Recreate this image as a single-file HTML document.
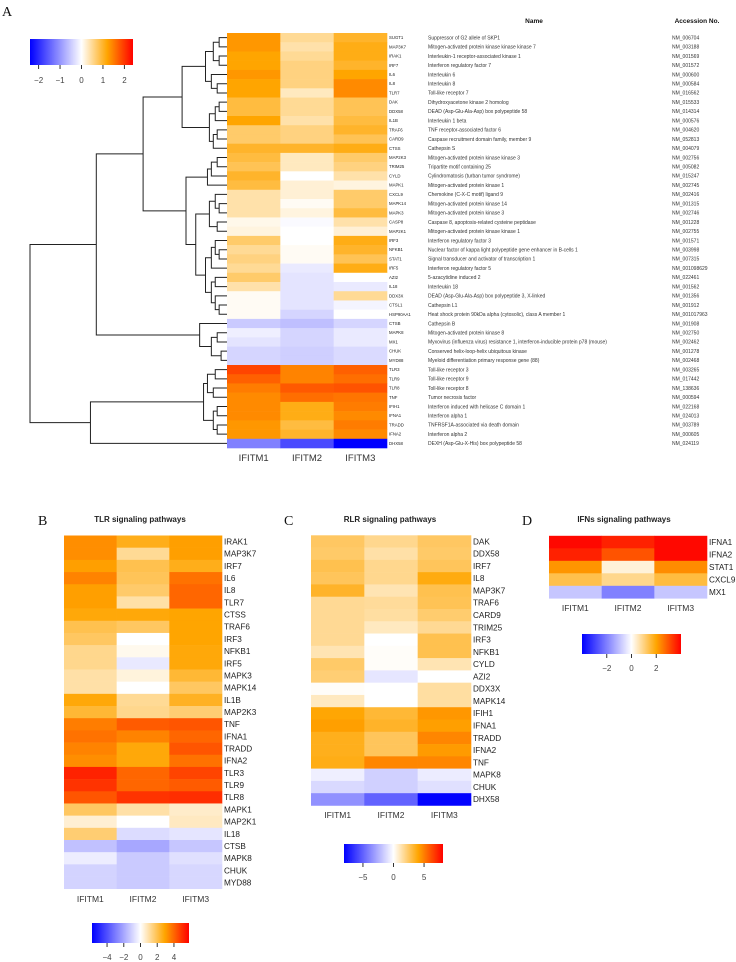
<!DOCTYPE html>
<html><head><meta charset="utf-8">
<style>
html,body{margin:0;padding:0;background:#fff;}
svg{display:block;font-family:"Liberation Sans",sans-serif;}
</style></head>
<body>
<svg id="fig" width="736" height="962" viewBox="0 0 736 962" xmlns="http://www.w3.org/2000/svg">
<defs id="defs"></defs>
<g id="root"></g>
</svg>
<script>
// ---------- DATA ----------
const colsA = ["IFITM1","IFITM2","IFITM3"];
const genesA = ["SUGT1","MAP3K7","IRAK1","IRF7","IL6","IL8","TLR7","DAK","DDX58","IL1B","TRAF6","CARD9","CTSS","MAP2K3","TRIM25","CYLD","MAPK1","CXCL9","MAPK14","MAPK3","CASP8","MAP2K1","IRF3","NFKB1","STAT1","IRF5","AZI2","IL18","DDX3X","CTSL1","HSP90AA1","CTSB","MAPK8","MX1","CHUK","MYD88","TLR3","TLR9","TLR8","TNF","IFIH1","IFNA1","TRADD","IFNA2","DHX58"];
const namesA = ["Suppressor of G2 allele of SKP1","Mitogen-activated protein kinase kinase kinase 7","Interleukin-1 receptor-associated kinase 1","Interferon regulatory factor 7","Interleukin 6","Interleukin 8","Toll-like receptor 7","Dihydroxyacetone kinase 2 homolog","DEAD (Asp-Glu-Ala-Asp) box polypeptide 58","Interleukin 1 beta","TNF receptor-associated factor 6","Caspase recruitment domain family, member 9","Cathepsin S","Mitogen-activated protein kinase kinase 3","Tripartite motif containing 25","Cylindromatosis (turban tumor syndrome)","Mitogen-activated protein kinase 1","Chemokine (C-X-C motif) ligand 9","Mitogen-activated protein kinase 14","Mitogen-activated protein kinase 3","Caspase 8, apoptosis-related cysteine peptidase","Mitogen-activated protein kinase kinase 1","Interferon regulatory factor 3","Nuclear factor of kappa light polypeptide gene enhancer in B-cells 1","Signal transducer and activator of transcription 1","Interferon regulatory factor 5","5-azacytidine induced 2","Interleukin 18","DEAD (Asp-Glu-Ala-Asp) box polypeptide 3, X-linked","Cathepsin L1","Heat shock protein 90kDa alpha (cytosolic), class A member 1","Cathepsin B","Mitogen-activated protein kinase 8","Myxovirus (influenza virus) resistance 1, interferon-inducible protein p78 (mouse)","Conserved helix-loop-helix ubiquitous kinase","Myeloid differentiation primary response gene (88)","Toll-like receptor 3","Toll-like receptor 9","Toll-like receptor 8","Tumor necrosis factor","Interferon induced with helicase C domain 1","Interferon alpha 1","TNFRSF1A-associated via death domain","Interferon alpha 2","DEXH (Asp-Glu-X-His) box polypeptide 58"];
const accA = ["NM_006704","NM_003188","NM_001569","NM_001572","NM_000600","NM_000584","NM_016562","NM_015533","NM_014314","NM_000576","NM_004620","NM_052813","NM_004079","NM_002756","NM_005082","NM_015247","NM_002745","NM_002416","NM_001315","NM_002746","NM_001228","NM_002755","NM_001571","NM_003998","NM_007315","NM_001098629","NM_022461","NM_001562","NM_001356","NM_001912","NM_001017963","NM_001908","NM_002750","NM_002462","NM_001278","NM_002468","NM_003265","NM_017442","NM_138636","NM_000594","NM_022168","NM_024013","NM_003789","NM_000605","NM_024119"];
const valA1 = [1.3,1.3,1.2,1.2,1.3,1.2,1.2,0.9,0.9,1.2,0.7,0.7,1.0,0.9,0.8,1.0,0.9,0.4,0.4,0.4,0.1,0.15,0.7,0.5,0.6,0.5,0.7,0.4,0.05,0.05,0.05,-0.5,-0.15,-0.25,-0.4,-0.4,1.9,1.7,1.5,1.4,1.4,1.4,1.3,1.3,-1.2];
const valA2 = [0.5,0.4,0.5,0.6,0.6,0.6,0.3,0.5,0.5,0.4,0.6,0.6,1.0,0.3,0.3,0.0,0.2,0.2,0.05,0.15,-0.05,0.0,0.0,0.05,0.05,-0.2,-0.25,-0.25,-0.25,-0.25,-0.4,-0.6,-0.4,-0.4,-0.45,-0.45,1.45,1.45,1.75,1.6,1.1,1.1,0.9,1.0,-1.7];
const valA3 = [1.0,1.1,1.1,1.0,1.2,1.4,1.4,0.8,0.8,0.9,1.0,0.8,1.1,0.7,0.6,0.4,0.15,0.7,0.7,0.9,0.4,0.2,1.1,1.0,0.8,1.1,0.0,-0.2,0.5,-0.1,0.0,-0.4,-0.2,-0.2,-0.35,-0.35,1.7,1.6,1.8,1.55,1.5,1.4,1.5,1.4,-2.4];
const ticksA = [-2,-1,0,1,2];

const genesB = ["IRAK1","MAP3K7","IRF7","IL6","IL8","TLR7","CTSS","TRAF6","IRF3","NFKB1","IRF5","MAPK3","MAPK14","IL1B","MAP2K3","TNF","IFNA1","TRADD","IFNA2","TLR3","TLR9","TLR8","MAPK1","MAP2K1","IL18","CTSB","MAPK8","CHUK","MYD88"];
const valB1 = [3.3,3.3,3.0,3.5,3.0,3.0,2.8,2.0,1.8,1.3,1.3,1.0,1.0,2.8,2.3,3.6,3.8,3.5,3.3,5.2,4.9,4.3,1.8,0.5,1.6,-1.4,-0.4,-1.0,-1.0];
const valB2 = [2.6,1.2,2.0,1.9,1.7,1.0,2.8,1.8,0.0,0.2,-0.5,0.4,0.0,1.2,1.3,4.2,3.5,2.8,2.8,4.0,4.0,4.9,1.0,0.0,-0.8,-2.0,-1.2,-1.2,-1.2];
const valB3 = [3.0,3.0,2.6,3.8,4.0,4.0,2.9,2.9,2.9,2.8,2.8,2.3,1.8,2.5,1.6,4.3,4.0,4.3,3.8,4.6,4.2,5.0,0.6,0.7,-0.6,-1.3,-0.7,-0.9,-0.9];
const ticksB = [-4,-2,0,2,4];

const genesC = ["DAK","DDX58","IRF7","IL8","MAP3K7","TRAF6","CARD9","TRIM25","IRF3","NFKB1","CYLD","AZI2","DDX3X","MAPK14","IFIH1","IFNA1","TRADD","IFNA2","TNF","MAPK8","CHUK","DHX58"];
const valC1 = [2.5,2.4,2.8,2.6,3.4,1.7,1.7,1.7,1.7,1.2,2.4,2.2,0.1,1.0,4.0,4.2,3.6,3.6,3.7,-0.5,-1.2,-3.5];
const valC2 = [1.8,1.4,1.8,1.8,1.2,1.6,1.5,1.0,0.0,0.1,0.1,-0.8,0.0,0.0,3.2,3.4,2.6,2.6,4.8,-1.5,-1.5,-5.0];
const valC3 = [2.5,2.4,2.6,3.8,2.8,2.7,2.3,1.7,2.8,2.8,1.2,0.0,1.5,1.5,4.4,4.2,4.8,4.3,4.8,-0.6,-1.0,-8.0];
const ticksC = [-5,0,5];

const genesD = ["IFNA1","IFNA2","STAT1","CXCL9","MX1"];
const valD1 = [3.9,3.6,2.2,1.4,-0.9];
const valD2 = [3.6,3.0,0.3,0.9,-2.0];
const valD3 = [3.9,3.9,2.3,1.5,-0.9];
const ticksD = [-2,0,2];

// ---------- HELPERS ----------
const NS="http://www.w3.org/2000/svg";
const root=document.getElementById('root');
const defs=document.getElementById('defs');
function mk(tag,attrs,parent){const e=document.createElementNS(NS,tag);for(const k in attrs)e.setAttribute(k,attrs[k]);(parent||root).appendChild(e);return e;}
function mix(a,b,t){return [0,1,2].map(i=>Math.round(a[i]+(b[i]-a[i])*t));}
function color(v,max){
  let t=Math.max(-1,Math.min(1,v/max));
  let c;
  if(t<0){c=mix([255,255,255],[0,0,255],-t);}
  else if(t<0.5){c=mix([255,255,255],[255,165,0],t/0.5);}
  else {c=mix([255,165,0],[255,0,0],(t-0.5)/0.5);}
  return `rgb(${c[0]},${c[1]},${c[2]})`;
}
function txt(x,y,s,size,attrs,parent){const e=mk('text',Object.assign({x:x,y:y,'font-size':size,fill:'#222'},attrs||{}),parent);e.textContent=s;return e;}

function heatmap(id,genes,series,max,x0,x1,y0,rowH,labelX,labelSize,colLabelY,colLabelSize){
  const g=mk('g',{});
  
  
  const cw=(x1-x0)/series.length;
  const xAt=j=>x0+j*cw;
  const yAt=i=>y0+i*rowH;
  series.forEach((vals,j)=>{
    vals.forEach((v,i)=>{
      const r=mk('rect',{x:xAt(j),y:yAt(i),width:cw+0.3,height:rowH+0.3,fill:color(v,max)},g);
      
      
    });
  });
  genes.forEach((gn,i)=>{
    const t=txt(labelX,yAt(i)+rowH/2+labelSize*0.35,gn,labelSize,{},g);
    
    
  });
  colsA.forEach((c,j)=>{
    const t=txt(xAt(j)+cw/2,colLabelY,c,colLabelSize,{'text-anchor':'middle',fill:'#333'},g);
    
    
  });
}
function colorbar(id,x0,x1,y0,y1,max,ticks,tickLabelY,fs){
  const gid='grad-'+id;
  const lg=mk('linearGradient',{id:gid,x1:'0',x2:'1',y1:'0',y2:'0'},defs);
  for(let k=0;k<=40;k++){const v=-max+2*max*k/40;mk('stop',{offset:(k/40),'stop-color':color(v,max)},lg);}
  const g=mk('g',{});
  
  
  mk('rect',{x:x0,y:y0,width:x1-x0,height:y1-y0,fill:`url(#${gid})`},g);
  const sx=v=>x0+(v+max)/(2*max)*(x1-x0);
  ticks.forEach(v=>{
    mk('line',{x1:sx(v),x2:sx(v),y1:y1,y2:y1+4,stroke:'#333','stroke-width':1},g);
    const t=txt(sx(v),tickLabelY,v<0?('\u2212'+Math.abs(v)):String(v),fs,{'text-anchor':'middle',fill:'#444'},g);
    
    
  });
}

// ---------- PANEL A ----------
const pA=txt(2,16,'A',14,{'font-family':'Liberation Serif, serif',fill:'#111'});


const ax0=227,ax1=387,ay0=33,ayH=(448-33)/genesA.length;
heatmap('panel-a',genesA,[valA1,valA2,valA3],2.4,ax0,ax1,ay0,ayH,389,4.3,461,9.5);
colorbar('panel-a',30,133,39,65,2.4,ticksA,83,8);
const hN=txt(534,23,'Name',6.5,{'font-weight':'bold','text-anchor':'middle',fill:'#111'});


const hA=txt(697,23,'Accession No.',6.5,{'font-weight':'bold','text-anchor':'middle',fill:'#111'});


namesA.forEach((n,i)=>{
  const t=txt(428,ay0+i*ayH+ayH/2+1.8,n,5,{fill:'#333'});
  
  
  const a=txt(672,ay0+i*ayH+ayH/2+1.8,accA[i],5,{fill:'#333'});
  
  
});
// dendrogram: nested [left,right,height]
const tree=[
  [
    [
      [
        [[[0,1,0.03],[2,3,0.03],0.06],[4,[5,6,0.04],0.07],0.1],
        [[[7,8,0.03],9,0.05],[[10,11,0.04],12,0.06],0.08],0.22
      ],
      [
        [[[13,14,0.04],15,0.07],16,0.09],
        [[[17,[18,19,0.03],0.05],[20,21,0.04],0.08],[[[22,[23,24,0.03],0.05],25,0.07],[[26,27,0.05],[28,[29,30,0.03],0.05],0.07],0.1],0.15],0.2
      ],0.42
    ],
    [31,[[32,33,0.04],[34,35,0.02],0.07],0.13],0.66
  ],
  [[[[36,37,0.05],[38,39,0.06],0.09],[[40,41,0.04],[42,43,0.04],0.06],0.11],44,0.69],1.0
];
const dg=mk('g',{});


const hx=h=>ax0-2-h*195;
function layout(n){
  if(typeof n==='number'){return {y:ay0+n*ayH+ayH/2,x:ax0};}
  const a=layout(n[0]),b=layout(n[1]);const x=hx(n[2]);
  mk('path',{d:`M${a.x},${a.y}H${x}V${b.y}H${b.x}`,fill:'none',stroke:'#222','stroke-width':1},dg);
  return {y:(a.y+b.y)/2,x:x};
}
layout(tree);

// ---------- PANEL B ----------
function panelTitle(letter,lx,title,tx,y,id){
  const l=txt(lx,y+3,letter,14,{'font-family':'Liberation Serif, serif',fill:'#111'});
  
  
  const t=txt(tx,y,title,8,{'font-weight':'bold','text-anchor':'middle',fill:'#222'});
  
  
}
panelTitle('B',38,'TLR signaling pathways',140,522,'panel-b');
heatmap('panel-b',genesB,[valB1,valB2,valB3],5.8,64,222,535.5,12.18,224,8.2,902,8.5);
colorbar('panel-b',92,189,923,943,5.8,ticksB,960,8);

panelTitle('C',284,'RLR signaling pathways',390,522,'panel-c');
heatmap('panel-c',genesC,[valC1,valC2,valC3],8.1,311,471,535.3,12.28,473,8.2,818,8.5);
colorbar('panel-c',344,443,844,863,8.1,ticksC,880,8);

panelTitle('D',522,'IFNs signaling pathways',624,522,'panel-d');
heatmap('panel-d',genesD,[valD1,valD2,valD3],4.0,549,707,535.8,12.5,709,8.2,611,8.5);
colorbar('panel-d',582,681,634,654,4.0,ticksD,671,8);
</script>
</body></html>
